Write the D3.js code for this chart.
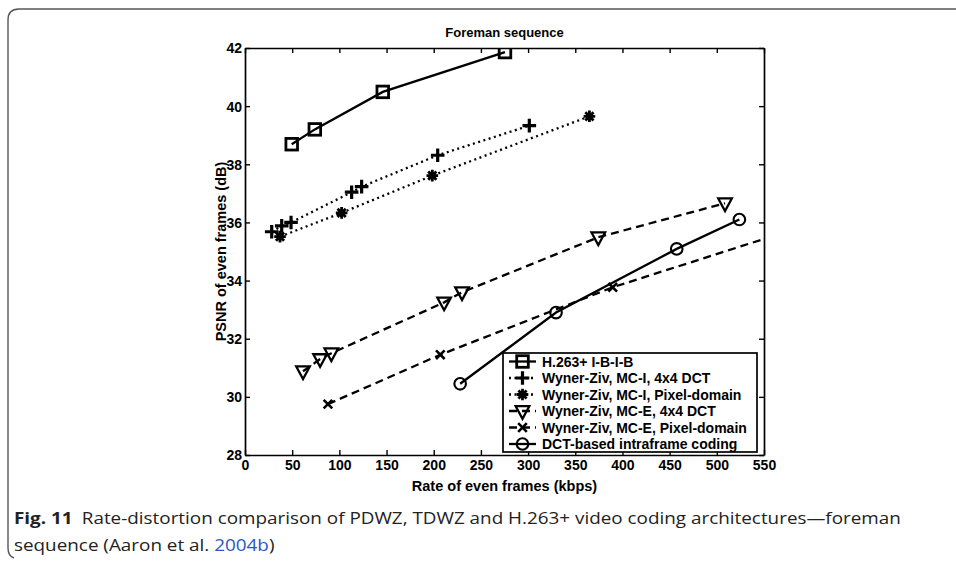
<!DOCTYPE html>
<meta charset="utf-8">
<html>
<head>
  <script src="https://cdn.jsdelivr.net/npm/d3@7/dist/d3.min.js"></script>
  <style>
    body { margin: 0; background: #fff; }
    .tick text { font-family: "Liberation Sans", Arial, sans-serif; font-weight: bold; font-size: 14px; fill: #000; }
    .lbl { font-family: "Liberation Sans", Arial, sans-serif; font-weight: bold; fill: #000; }
  </style>
</head>
<body>
<div id="chart"></div>
<script>
  // x ticks / y ticks
  const xTicks = [0, 50, 100, 150, 200, 250, 300, 350, 400, 450, 500, 550];
  const yTicks = [28, 30, 32, 34, 36, 38, 40, 42];

  // series data (kbps, dB)
  const h263Rate = [49.5, 74, 146, 275.5];
  const h263Psnr = [38.69, 39.2, 40.49, 41.86];

  const mciDctRate = [28.3, 38.9, 48.8, 113, 123.6, 204.2, 301.3];
  const mciDctPsnr = [35.68, 35.88, 36.0, 37.04, 37.23, 38.31, 39.33];

  const mciPixRate = [37.1, 102.4, 198.5, 365];
  const mciPixPsnr = [35.51, 36.33, 37.61, 39.65];

  const mceDctRate = [61.5, 79.6, 91.5, 211, 230, 374.4, 508.7];
  const mceDctPsnr = [30.88, 31.3, 31.5, 33.25, 33.6, 35.49, 36.66];

  const mcePixRate = [87.9, 207, 389.7, 600];
  const mcePixPsnr = [29.75, 31.45, 33.77, 35.95];

  const intraRate = [228, 329.6, 457.5, 523.9];
  const intraPsnr = [30.45, 32.9, 35.09, 36.1];

  const names = ["H.263+ I-B-I-B", "Wyner-Ziv, MC-I, 4x4 DCT", "Wyner-Ziv, MC-I, Pixel-domain",
                 "Wyner-Ziv, MC-E, 4x4 DCT", "Wyner-Ziv, MC-E, Pixel-domain", "DCT-based intraframe coding"];

  const series = [
    {name: names[0], rate: h263Rate, psnr: h263Psnr, dash: null, mark: "square"},
    {name: names[1], rate: mciDctRate, psnr: mciDctPsnr, dash: "2,3.5", mark: "plus"},
    {name: names[2], rate: mciPixRate, psnr: mciPixPsnr, dash: "2,3.5", mark: "star"},
    {name: names[3], rate: mceDctRate, psnr: mceDctPsnr, dash: "8,5", mark: "tri"},
    {name: names[4], rate: mcePixRate, psnr: mcePixPsnr, dash: "8,5", mark: "x"},
    {name: names[5], rate: intraRate, psnr: intraPsnr, dash: null, mark: "circle"}
  ];

  const width = 956, height = 566;
  const margin = {top: 48, right: 192, bottom: 111, left: 245};

  var svg = d3.select("#chart").append("svg")
      .attr("width", width).attr("height", height);

  // outer figure box (rounded left corners)
  svg.append("path")
      .attr("d", "M956,9 L19,9 Q8,9 8,20 L8,548 Q8,556 14,558")
      .attr("fill", "none").attr("stroke", "#555").attr("stroke-width", 1.4);

  var x = d3.scaleLinear().domain([0, 550]).range([margin.left, width - margin.right]);
  var y = d3.scaleLinear().domain([28, 42]).range([height - margin.bottom, margin.top]);

  svg.append("defs").append("clipPath").attr("id", "clip")
    .append("rect").attr("x", x(0)).attr("y", y(42))
    .attr("width", x(550) - x(0)).attr("height", y(28) - y(42));

  // axes with inward ticks on all sides
  var gx = svg.append("g").attr("transform", "translate(0," + y(28) + ")")
      .call(d3.axisBottom(x).tickValues(xTicks).tickSizeInner(-5).tickSizeOuter(0).tickPadding(4));
  var gy = svg.append("g").attr("transform", "translate(" + x(0) + ",0)")
      .call(d3.axisLeft(y).tickValues(yTicks).tickSizeInner(-5).tickSizeOuter(0).tickPadding(3));
  var gt = svg.append("g").attr("transform", "translate(0," + y(42) + ")")
      .call(d3.axisTop(x).tickValues(xTicks).tickSizeInner(-5).tickSizeOuter(0).tickFormat(""));
  var gr = svg.append("g").attr("transform", "translate(" + x(550) + ",0)")
      .call(d3.axisRight(y).tickValues(yTicks).tickSizeInner(-5).tickSizeOuter(0).tickFormat(""));
  [gx, gy, gt, gr].forEach(function(g) {
    g.select(".domain").attr("stroke", "#000").attr("stroke-width", 1.7);
    g.selectAll(".tick line").attr("stroke", "#000").attr("stroke-width", 1.4);
  });
  gx.selectAll(".tick text").attr("dy", "0.8em");
  gy.selectAll(".tick text").attr("dy", "0.35em");

  // title and axis labels
  svg.append("text").attr("class", "lbl").attr("x", (x(0) + x(550)) / 2).attr("y", 37)
      .attr("text-anchor", "middle").style("font-size", "13px").text("Foreman sequence");
  svg.append("text").attr("class", "lbl").attr("x", (x(0) + x(550)) / 2).attr("y", 491)
      .attr("text-anchor", "middle").style("font-size", "14.5px").text("Rate of even frames (kbps)");
  svg.append("text").attr("class", "lbl")
      .attr("transform", "translate(226," + (y(35)) + ") rotate(-90)")
      .attr("text-anchor", "middle").style("font-size", "14.5px").text("PSNR of even frames (dB)");

  function drawMarker(g, type, cx, cy) {
    var s = 5.8;
    if (type == "square") {
      g.append("rect").attr("x", cx - s).attr("y", cy - s).attr("width", 2 * s).attr("height", 2 * s)
        .attr("fill", "none").attr("stroke", "#000").attr("stroke-width", 2.8);
    } else if (type == "plus") {
      g.append("path").attr("d", "M" + (cx - s - 1) + "," + cy + "H" + (cx + s + 1) + "M" + cx + "," + (cy - s - 1) + "V" + (cy + s + 1))
        .attr("stroke", "#000").attr("stroke-width", 3.2);
    } else if (type == "star") {
      var d = "";
      for (var k = 0; k < 4; k++) {
        var a = k * Math.PI / 4;
        d += "M" + (cx - s * Math.cos(a)) + "," + (cy - s * Math.sin(a)) + "L" + (cx + s * Math.cos(a)) + "," + (cy + s * Math.sin(a));
      }
      g.append("path").attr("d", d).attr("stroke", "#000").attr("stroke-width", 2.8);
      g.append("circle").attr("cx", cx).attr("cy", cy).attr("r", 3.4).attr("fill", "#000");
    } else if (type == "tri") {
      g.append("path").attr("d", "M" + (cx - s - 1) + "," + (cy - s + 1) + "H" + (cx + s + 1) + "L" + cx + "," + (cy + s + 2) + "Z")
        .attr("fill", "none").attr("stroke", "#000").attr("stroke-width", 2.3);
    } else if (type == "x") {
      var t = 4.3;
      g.append("path").attr("d", "M" + (cx - t) + "," + (cy - t) + "L" + (cx + t) + "," + (cy + t) + "M" + (cx - t) + "," + (cy + t) + "L" + (cx + t) + "," + (cy - t))
        .attr("stroke", "#000").attr("stroke-width", 2.6);
    } else if (type == "circle") {
      g.append("circle").attr("cx", cx).attr("cy", cy).attr("r", s)
        .attr("fill", "none").attr("stroke", "#000").attr("stroke-width", 2.1);
    }
  }

  var line = d3.line().x(function(d) { return x(d[0]); }).y(function(d) { return y(d[1]); });
  var plot = svg.append("g").attr("clip-path", "url(#clip)");

  series.forEach(function(s) {
    var pts = s.rate.map(function(r, i) { return [r, s.psnr[i]]; });
    plot.append("path").datum(pts).attr("d", line)
      .attr("fill", "none").attr("stroke", "#000").attr("stroke-width", 2.3)
      .attr("stroke-dasharray", s.dash);
    var mg = plot.append("g");
    pts.forEach(function(p) { drawMarker(mg, s.mark, x(p[0]), y(p[1])); });
  });

  // legend
  var lg = svg.append("g");
  lg.append("rect").attr("x", 503).attr("y", 353).attr("width", 254).attr("height", 99)
    .attr("fill", "#fff").attr("stroke", "#000").attr("stroke-width", 1.7);
  series.forEach(function(s, i) {
    var ly = 361.5 + i * 16.5;
    lg.append("line").attr("x1", 509).attr("x2", 536).attr("y1", ly).attr("y2", ly)
      .attr("stroke", "#000").attr("stroke-width", 2.3).attr("stroke-dasharray", s.dash);
    drawMarker(lg, s.mark, 522.5, ly);
    lg.append("text").attr("class", "lbl").attr("x", 542).attr("y", ly).attr("dy", "0.36em")
      .style("font-size", "14px").text(s.name);
  });

  // caption
  var cap = svg.append("g").style("font-family", "'Open Sans', 'Noto Sans', sans-serif").style("fill", "#222");
  var t1 = cap.append("text").attr("x", 14).attr("y", 524).style("font-size", "16.5px");
  t1.append("tspan").style("font-weight", "bold").text("Fig. 11");
  t1.append("tspan").attr("dx", 8).text("Rate-distortion comparison of PDWZ, TDWZ and H.263+ video coding architectures\u2014foreman");
  var t2 = cap.append("text").attr("x", 14).attr("y", 551).style("font-size", "16.5px");
  t2.append("tspan").text("sequence (Aaron et al. ");
  t2.append("tspan").style("fill", "#2a56c6").text("2004b");
  t2.append("tspan").text(")");
  // squeeze caption to the narrow face width of the original
  var w1 = t1.node().getComputedTextLength();
  var sc = (892 - 14) / w1;
  t1.attr("transform", "translate(14,0) scale(" + sc + ",1) translate(-14,0)");
  t2.attr("transform", "translate(14,0) scale(" + sc + ",1) translate(-14,0)");
</script>
</body>
</html>
